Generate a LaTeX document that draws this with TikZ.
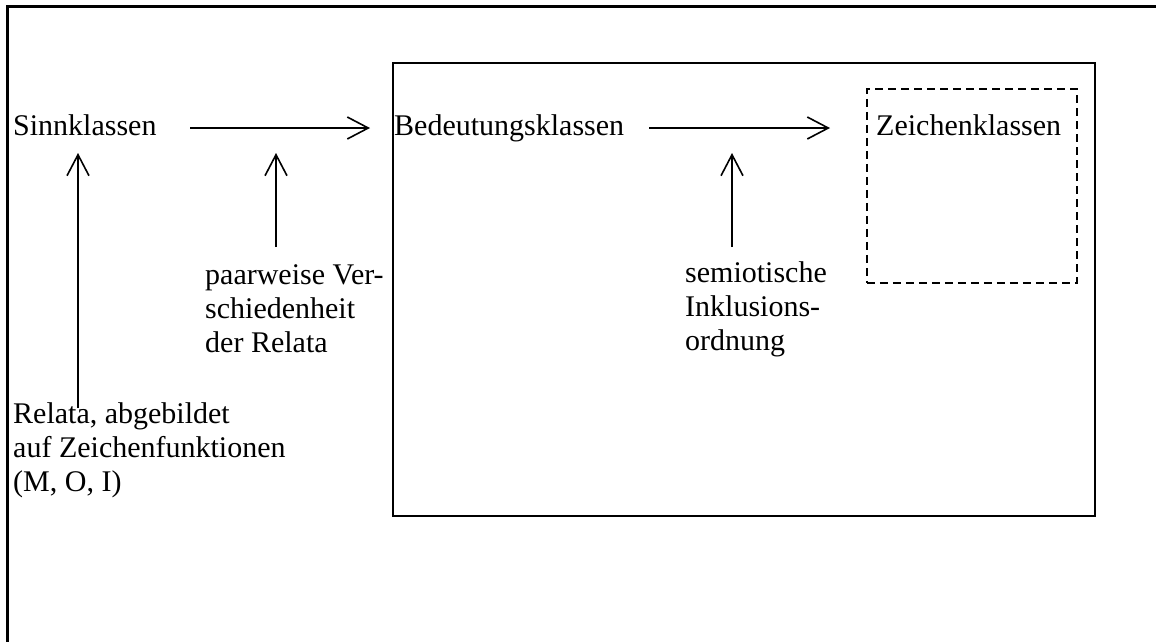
\documentclass[tikz,border=0pt]{standalone}
\usepackage{fontspec}
\setmainfont{Liberation Serif}
\usetikzlibrary{arrows.meta,calc}
\tikzset{
  lbl/.style={inner sep=0pt, anchor=base west},
  arr/.style={line width=1.6pt, -{Straight Barb[length=21pt,width=22pt,line width=1.6pt]}},
  frame/.style={line width=1.5pt},
  dashframe/.style={line width=1.5pt, dash pattern=on 8pt off 5pt},
  outer/.style={line width=3.5pt}
}
\begin{document}
\begin{tikzpicture}[x=1pt,y=-1pt,font=\fontsize{30}{34}\selectfont]
\useasboundingbox (0,0) rectangle (1156,641);
% outer frame (top and left visible)
\draw[outer] (1160,6.5) -- (7.5,6.5) -- (7.5,645);
% boxes
\node[frame, draw, inner sep=0pt, anchor=north west, minimum width=702pt, minimum height=453pt] (big) at (392,62) {};
\node[dashframe, draw, inner sep=0pt, anchor=north west, minimum width=210pt, minimum height=194pt] (dbox) at (866,88) {};
% labels
\node[lbl] (sinn) at (13,135) {Sinnklassen};
\node[lbl] (bed) at (394,135) {Bedeutungsklassen};
\node[lbl] (zei) at (876,135) {Zeichenklassen};
\node[lbl] (pv) at (205,284) {\begin{tabular}[t]{@{}l@{}}paarweise Ver-\\schiedenheit\\der Relata\end{tabular}};
\node[lbl] (sem) at (685,282) {\begin{tabular}[t]{@{}l@{}}semiotische\\Inklusions-\\ordnung\end{tabular}};
\node[lbl] (rel) at (13,423) {\begin{tabular}[t]{@{}l@{}}Relata, abgebildet\\auf Zeichenfunktionen\\(M, O, I)\end{tabular}};
% arrow coordinates
\coordinate (h1s) at (190,128);
\coordinate (h1e) at (370,128);
\coordinate (h2s) at (649,128);
\coordinate (h2e) at (830,128);
\coordinate (v1s) at (78,408);
\coordinate (v1e) at (78,153);
\coordinate (v2s) at (276,247);
\coordinate (v2e) at (276,153);
\coordinate (v3s) at (732,247);
\coordinate (v3e) at (732,153);
\draw[arr] (h1s) -- (h1e);
\draw[arr] (h2s) -- (h2e);
\draw[arr] (v1s) -- (v1e);
\draw[arr] (v2s) -- (v2e);
\draw[arr] (v3s) -- (v3e);
\end{tikzpicture}
\end{document}
